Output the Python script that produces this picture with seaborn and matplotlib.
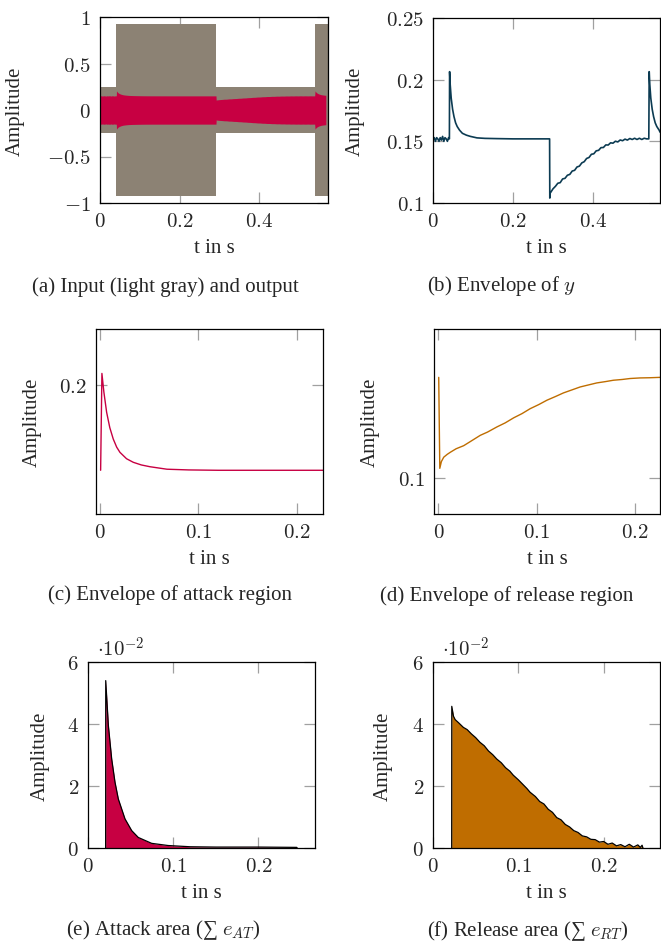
import numpy as np
import matplotlib
matplotlib.use("Agg")
import matplotlib.pyplot as plt
import seaborn as sns
from matplotlib.ticker import FuncFormatter

sns.set_style("ticks")
plt.rcParams["font.family"] = ["Liberation Serif", "DejaVu Serif"]
plt.rcParams["mathtext.fontset"] = "cm"

# colours
gray_in = "#8c8274"
red_out = "#c70042"
navy = "#0c3b52"
orange = "#bf6d00"

# (a) input signal: step envelope of the dense oscillation (light gray)
t_in = [0.0, 0.040, 0.292, 0.540, 0.573]
amp_in = [0.25, 0.92, 0.25, 0.92, 0.92]

# (b) envelope of y (also the red output band in (a))
t_env = [0.000, 0.003, 0.006, 0.009, 0.012, 0.015, 0.018, 0.021, 0.024, 0.027,
         0.030, 0.033, 0.036, 0.039, 0.0410,
         0.0415, 0.0430, 0.0455, 0.0490, 0.0525, 0.0565, 0.0605, 0.0665, 0.0735,
         0.0835, 0.0935, 0.110, 0.130, 0.160, 0.200, 0.250, 0.2915,
         0.2920, 0.2925, 0.294, 0.300, 0.306, 0.312, 0.318, 0.324, 0.330, 0.336,
         0.342, 0.348, 0.354, 0.360, 0.366, 0.372, 0.378, 0.384, 0.390, 0.396,
         0.402, 0.408, 0.414, 0.420, 0.426, 0.432, 0.438, 0.444, 0.450, 0.456,
         0.462, 0.468, 0.474, 0.480, 0.486, 0.492, 0.498, 0.504, 0.510, 0.516,
         0.522, 0.528, 0.534, 0.5395,
         0.5405, 0.5420, 0.5445, 0.5480, 0.5515, 0.5555, 0.5595, 0.5655, 0.5675]
env_y = [0.151, 0.153, 0.150, 0.153, 0.152, 0.150, 0.153, 0.151, 0.154, 0.150,
         0.153, 0.152, 0.150, 0.153, 0.152,
         0.2065, 0.196, 0.185, 0.176, 0.170, 0.165, 0.162, 0.159, 0.1565,
         0.155, 0.154, 0.1528, 0.1524, 0.1522, 0.152, 0.152, 0.152,
         0.104, 0.108, 0.1085, 0.1115, 0.1135, 0.116, 0.1165, 0.1195, 0.120, 0.1225,
         0.1232, 0.1259, 0.1265, 0.1292, 0.1299, 0.1325, 0.1335, 0.1361, 0.1369, 0.1395,
         0.1399, 0.1423, 0.1427, 0.1449, 0.1450, 0.1471, 0.1470, 0.1488, 0.1485, 0.1501,
         0.1495, 0.1511, 0.1505, 0.1518, 0.1510, 0.1523, 0.1515, 0.1525, 0.1515, 0.1525,
         0.1515, 0.1525, 0.152, 0.152,
         0.2065, 0.196, 0.185, 0.176, 0.170, 0.165, 0.162, 0.159, 0.1575]

# (c) envelope of attack region
t_att = [0.0007, 0.0020, 0.0040, 0.0068, 0.0100, 0.0135, 0.0170, 0.0203, 0.0270,
         0.0338, 0.0420, 0.0508, 0.0680, 0.0900, 0.1200, 0.1600, 0.2264]
env_att = [0.152, 0.2065, 0.196, 0.1846, 0.176, 0.1696, 0.165, 0.1621, 0.1585,
           0.1565, 0.155, 0.154, 0.1526, 0.1522, 0.152, 0.152, 0.152]

# (d) envelope of release region
t_rel = [0.0003, 0.0014, 0.0030, 0.0054, 0.0090, 0.0122, 0.0180, 0.0257, 0.0320,
         0.0426, 0.0500, 0.0596, 0.0680, 0.0765, 0.0850, 0.0934, 0.1020, 0.1104,
         0.1190, 0.1272, 0.1360, 0.1442, 0.1530, 0.1611, 0.1700, 0.1780, 0.1870,
         0.1950, 0.2050, 0.2150, 0.2254]
env_rel = [0.1524, 0.1050, 0.1085, 0.1108, 0.1123, 0.1134, 0.1152, 0.1168, 0.1188,
           0.1222, 0.1239, 0.1266, 0.1287, 0.1313, 0.1335, 0.1361, 0.1382, 0.1405,
           0.1424, 0.1443, 0.1459, 0.1474, 0.1485, 0.1495, 0.1502, 0.1509, 0.1513,
           0.1518, 0.1521, 0.1522, 0.1524]

# (e) attack area
t_eat = [0.0207, 0.0208, 0.0239, 0.0278, 0.0317, 0.0356, 0.0434, 0.0513, 0.0590,
         0.0747, 0.0940, 0.1200, 0.1500, 0.2000, 0.2450, 0.2455]
e_at = [0.0, 0.054, 0.0395, 0.0287, 0.0212, 0.0158, 0.0094, 0.0056, 0.0034,
        0.0015, 0.0008, 0.0004, 0.0003, 0.0003, 0.0002, 0.0]

# (f) release area
t_ert = [0.0219, 0.0220, 0.0240, 0.0260, 0.0300, 0.0356, 0.0400, 0.0450, 0.0500,
         0.0550, 0.0600, 0.0650, 0.0700, 0.0747, 0.0800, 0.0850, 0.0900, 0.0940,
         0.1000, 0.1050, 0.1100, 0.1137, 0.1200, 0.1250, 0.1300, 0.1350, 0.1400,
         0.1450, 0.1500, 0.1550, 0.1600, 0.1650, 0.1700, 0.1750, 0.1800, 0.1850,
         0.1900, 0.1950, 0.2000, 0.2050, 0.2100, 0.2150, 0.2200, 0.2250, 0.2300,
         0.2350, 0.2400, 0.2430, 0.2450, 0.2460]
e_rt = [0.0, 0.0457, 0.0425, 0.0414, 0.0404, 0.0389, 0.0382, 0.0368, 0.0356,
        0.0341, 0.0330, 0.0313, 0.0301, 0.0287, 0.0275, 0.0259, 0.0248, 0.0235,
        0.0220, 0.0206, 0.0192, 0.0180, 0.0166, 0.0150, 0.0142, 0.0125, 0.0115,
        0.0098, 0.0091, 0.0076, 0.0068, 0.0056, 0.0050, 0.0039, 0.0036, 0.0028,
        0.0027, 0.0019, 0.0021, 0.0012, 0.0016, 0.0007, 0.0011, 0.0004, 0.0012,
        0.0003, 0.0010, 0.0002, 0.0009, 0.0]

captions = ["(a) Input (light gray) and output", "(b) Envelope of $y$",
            "(c) Envelope of attack region", "(d) Envelope of release region",
            "(e) Attack area (\u2211 $e_{AT}$)", "(f) Release area (\u2211 $e_{RT}$)"]

W, H = 661, 945
fig = plt.figure(figsize=(W / 100, H / 100), dpi=100)

# axes boxes in pixels: left, right, top, bottom
boxes = [(100, 328, 18, 204), (433, 660, 19, 204),
         (96, 323, 330, 515), (434, 660, 330, 515),
         (88, 315, 663, 849), (433, 660, 663, 849)]
axes = []
for l, r, t, b in boxes:
    axes.append(fig.add_axes([l / W, 1 - b / H, (r - l) / W, (b - t) / H]))

# (a)
ax = axes[0]
ax.fill_between(t_in, [-a for a in amp_in], amp_in, step="post", color=gray_in, lw=0)
env_arr = np.array(env_y)
ax.fill_between(t_env, -env_arr, env_arr, color=red_out, lw=0)
ax.set_xlim(0, 0.573)
ax.set_ylim(-1, 1)
ax.set_xticks([0, 0.2, 0.4])
ax.set_yticks([-1, -0.5, 0, 0.5, 1])

# (b)
ax = axes[1]
sns.lineplot(x=t_env, y=env_y, ax=ax, estimator=None, sort=False, color=navy, lw=1.2)
ax.set_xlim(0, 0.5675)
ax.set_ylim(0.1, 0.25)
ax.set_xticks([0, 0.2, 0.4])
ax.set_yticks([0.1, 0.15, 0.2, 0.25])

# (c)
ax = axes[2]
sns.lineplot(x=t_att, y=env_att, ax=ax, estimator=None, sort=False, color=red_out, lw=1.0)
ax.set_xlim(-0.004, 0.2264)
ax.set_ylim(0.1274, 0.2315)
ax.set_xticks([0, 0.1, 0.2])
ax.set_yticks([0.2])

# (d)
ax = axes[3]
sns.lineplot(x=t_rel, y=env_rel, ax=ax, estimator=None, sort=False, color=orange, lw=1.0)
ax.set_xlim(-0.0045, 0.2254)
ax.set_ylim(0.0812, 0.1776)
ax.set_xticks([0, 0.1, 0.2])
ax.set_yticks([0.1])

# (e) and (f)
for ax, tt, vv, col, xmax in [(axes[4], t_eat, e_at, red_out, 0.2664),
                              (axes[5], t_ert, e_rt, orange, 0.266)]:
    ax.fill_between(tt, 0, vv, color=col, lw=0)
    sns.lineplot(x=tt, y=vv, ax=ax, estimator=None, sort=False, color="black", lw=0.9)
    ax.set_xlim(0, xmax)
    ax.set_ylim(0, 0.06)
    ax.set_xticks([0, 0.1, 0.2])
    ax.set_yticks([0, 0.02, 0.04, 0.06])
    ax.yaxis.set_major_formatter(FuncFormatter(lambda v, p: f"${v * 100:g}$"))
    ax.text(0.038, 1.005, r"$\cdot 10^{-2}$", transform=ax.transAxes,
            ha="left", va="bottom", fontsize=15)

math_fmt = FuncFormatter(lambda v, p: f"${v:g}$")
ylab_x = [-0.329, -0.300, -0.239, -0.239, -0.167, -0.175]
cap_pos = [(165, 287), (501, 286), (170, 595), (507, 596), (163, 930), (528, 931)]
for i, ax in enumerate(axes):
    ax.xaxis.set_major_formatter(math_fmt)
    if i < 4:
        ax.yaxis.set_major_formatter(math_fmt)
    ax.tick_params(direction="in", top=True, right=True, length=8, width=0.9,
                   color="#a0a0a0", labelsize=15, pad=6.5)
    for s in ax.spines.values():
        s.set_linewidth(0.9)
        s.set_color("black")
    ax.set_xlabel("t in s", fontsize=15)
    ax.set_ylabel("Amplitude", fontsize=15)
    ax.xaxis.set_label_coords(0.5, -0.19)
    ax.yaxis.set_label_coords(ylab_x[i], 0.5)
    cx, cy = cap_pos[i]
    fig.text(cx / W, 1 - cy / H, captions[i], ha="center", va="center", fontsize=15)

fig.savefig("out.png", dpi=100)
